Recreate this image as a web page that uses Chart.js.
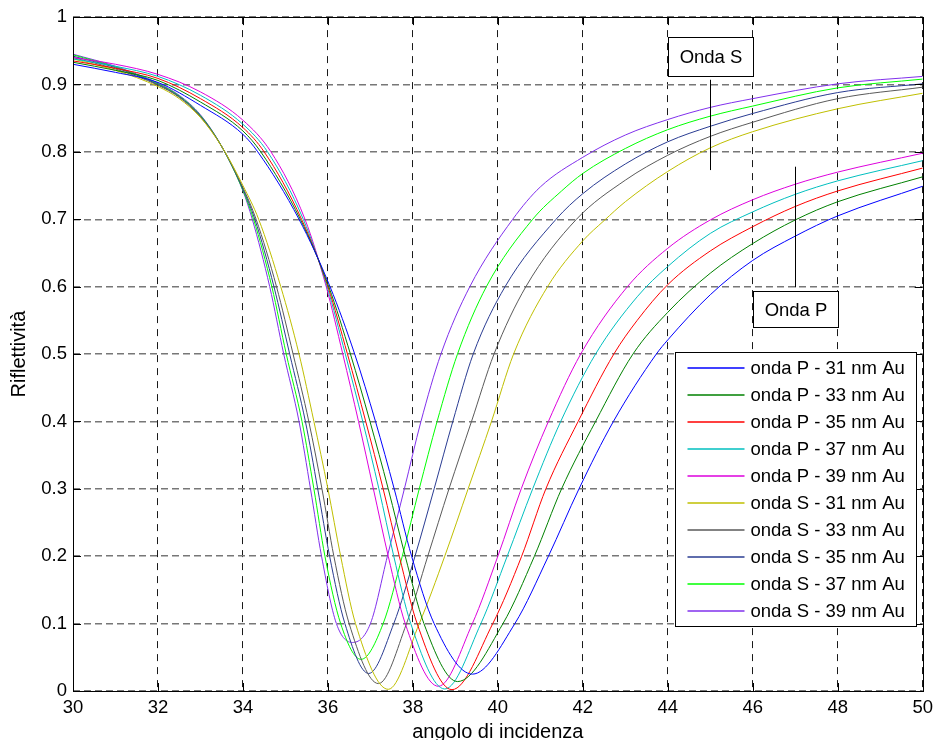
<!DOCTYPE html>
<html lang="it">
<head>
    <meta charset="UTF-8">
    <title>Riflettività</title>
    <script src="https://cdn.jsdelivr.net/npm/chart.js"></script>
    <style>
        html, body { margin: 0; padding: 0; background: #ffffff; }
        #grafico { display: block; }
    </style>
</head>
<body>
    <canvas id="grafico" width="939" height="740"></canvas>

    <script>
        // curve: [angolo, riflettività]
        const pOnda31 = [[30,0.930],[31,0.918],[32,0.903],[33,0.869],[34,0.826],[34.35,0.8],[35.32,0.7],[36.05,0.6],[36.63,0.5],[37.12,0.4],[37.56,0.3],[37.97,0.2],[38.5,0.1],[39.4,0.025],[40.4,0.1],[41.19,0.2],[41.91,0.3],[42.72,0.4],[43.73,0.5],[44,0.521],[45,0.588],[46,0.639],[47,0.675],[48,0.705],[50,0.749]];
        const pOnda33 = [[30,0.933],[31,0.921],[32,0.906],[33,0.874],[34,0.831],[34.42,0.8],[35.35,0.7],[36.02,0.6],[36.53,0.5],[36.99,0.4],[37.42,0.3],[37.82,0.2],[38.26,0.1],[39.05,0.014],[40.12,0.1],[40.86,0.2],[41.5,0.3],[42.3,0.4],[43.18,0.5],[44,0.562],[45,0.620],[46,0.664],[47,0.699],[48,0.726],[50,0.763]];
        const pOnda35 = [[30,0.935],[31,0.924],[32,0.909],[33,0.879],[34,0.836],[34.5,0.8],[35.38,0.7],[36.0,0.6],[36.46,0.5],[36.89,0.4],[37.3,0.3],[37.68,0.2],[38.1,0.1],[38.92,0.002],[39.88,0.1],[40.56,0.2],[41.13,0.3],[41.89,0.4],[42.73,0.5],[43.28,0.55],[44,0.603],[45,0.653],[46,0.689],[47,0.719],[48,0.742],[50,0.776]];
        const pOnda37 = [[30,0.938],[31,0.927],[32,0.912],[33,0.884],[34,0.841],[34.58,0.8],[35.42,0.7],[35.98,0.6],[36.41,0.5],[36.82,0.4],[37.2,0.3],[37.55,0.2],[37.95,0.1],[38.75,0.003],[39.6,0.1],[40.22,0.2],[40.82,0.3],[41.48,0.4],[42.3,0.5],[43.28,0.585],[44,0.630],[45,0.679],[46,0.711],[47,0.737],[48,0.757],[50,0.787]];
        const pOnda39 = [[30,0.940],[31,0.930],[32,0.915],[33,0.889],[34,0.847],[34.66,0.8],[35.46,0.7],[35.96,0.6],[36.35,0.5],[36.72,0.4],[37.07,0.3],[37.42,0.2],[37.82,0.1],[38.6,0.007],[39.4,0.1],[40.0,0.2],[40.55,0.3],[41.19,0.4],[41.95,0.5],[43.05,0.6],[44,0.657],[45,0.699],[46,0.729],[47,0.752],[48,0.770],[50,0.798]];
        const sOnda31 = [[30,0.938],[31,0.921],[32,0.897],[32.5,0.879],[33,0.851],[33.5,0.808],[34,0.750],[34.37,0.7],[34.89,0.6],[35.32,0.5],[35.67,0.4],[36.0,0.3],[36.3,0.2],[36.65,0.1],[37.42,0.0025],[38.15,0.1],[38.75,0.2],[39.3,0.3],[39.85,0.4],[40.37,0.5],[41.17,0.6],[42,0.668],[42.5,0.698],[43,0.726],[44,0.771],[45,0.806],[46,0.830],[48,0.864],[50,0.887]];
        const sOnda33 = [[30,0.940],[31,0.923],[32,0.899],[32.5,0.881],[33,0.852],[33.5,0.808],[34,0.747],[34.31,0.7],[34.79,0.6],[35.18,0.5],[35.55,0.4],[35.86,0.3],[36.14,0.2],[36.5,0.1],[37.19,0.011],[37.85,0.1],[38.35,0.2],[38.85,0.3],[39.38,0.4],[39.91,0.5],[40.66,0.6],[41.85,0.7],[43,0.758],[44,0.795],[45,0.823],[46,0.844],[48,0.879],[50,0.896]];
        const sOnda35 = [[30,0.942],[31,0.925],[32,0.900],[32.5,0.882],[33,0.853],[33.5,0.808],[34,0.745],[34.28,0.7],[34.73,0.6],[35.10,0.5],[35.47,0.4],[35.76,0.3],[36.04,0.2],[36.4,0.1],[36.96,0.026],[37.55,0.1],[38.05,0.2],[38.5,0.3],[38.94,0.4],[39.42,0.5],[40.17,0.6],[41.37,0.7],[42,0.738],[43,0.782],[44,0.815],[45,0.838],[46,0.857],[48,0.888],[50,0.901]];
        const sOnda37 = [[30,0.944],[31,0.926],[32,0.901],[32.5,0.883],[33,0.854],[33.5,0.808],[34,0.743],[34.25,0.7],[34.68,0.6],[35.02,0.5],[35.39,0.4],[35.67,0.3],[35.93,0.2],[36.3,0.1],[36.78,0.047],[37.3,0.1],[37.75,0.2],[38.15,0.3],[38.57,0.4],[39.05,0.5],[39.73,0.6],[40.82,0.7],[41.5,0.742],[42,0.768],[43,0.805],[44,0.833],[45,0.853],[46,0.868],[48,0.895],[50,0.908]];
        const sOnda39 = [[30,0.945],[31,0.927],[32,0.902],[32.5,0.884],[33,0.855],[33.5,0.808],[34,0.742],[34.22,0.7],[34.63,0.6],[34.96,0.5],[35.32,0.4],[35.59,0.3],[35.85,0.2],[36.2,0.1],[36.58,0.072],[37.0,0.1],[37.4,0.2],[37.8,0.3],[38.19,0.4],[38.66,0.5],[39.34,0.6],[40.35,0.7],[41,0.748],[42,0.792],[43,0.825],[44,0.848],[45,0.866],[46,0.879],[48,0.901],[50,0.912]];

        const serie = [pOnda31, pOnda33, pOnda35, pOnda37, pOnda39, sOnda31, sOnda33, sOnda35, sOnda37, sOnda39];
        const etichette = ['onda P - 31 nm Au', 'onda P - 33 nm Au', 'onda P - 35 nm Au', 'onda P - 37 nm Au', 'onda P - 39 nm Au',
                           'onda S - 31 nm Au', 'onda S - 33 nm Au', 'onda S - 35 nm Au', 'onda S - 37 nm Au', 'onda S - 39 nm Au'];
        const colori = ['#0000ff', '#008000', '#ff0000', '#00bfbf', '#dd00dd',
                        '#bfbf00', '#5a5a5a', '#2a3c92', '#00ff00', '#8030ec'];

        const tickX = [30, 32, 34, 36, 38, 40, 42, 44, 46, 48, 50];
        const tickY = [0, 0.1, 0.2, 0.3, 0.4, 0.5, 0.6, 0.7, 0.8, 0.9, 1];

        // riquadri di testo con la loro freccia (coordinate dei dati)
        const note = [
            { testo: 'Onda S', box: [44, 46, 0.913, 0.970], linea: [45, 0.773, 0.907] },
            { testo: 'Onda P', box: [46, 48, 0.540, 0.594], linea: [47, 0.599, 0.778] }
        ];

        const FONT = '"Liberation Sans", Arial, sans-serif';
        const CORPO = 18.5;
        const CORPO_TITOLI = 20;

        // cornice, tacche interne, note, legenda e titoli degli assi
        const decorazioni = {
            id: 'decorazioni',
            afterDraw(chart) {
                const { ctx, chartArea: a, scales: { x, y } } = chart;
                ctx.save();

                // tacche verso l'interno
                ctx.strokeStyle = '#000';
                ctx.lineWidth = 1;
                ctx.beginPath();
                tickX.forEach(v => {
                    const px = Math.round(x.getPixelForValue(v)) + 0.5;
                    ctx.moveTo(px, a.bottom); ctx.lineTo(px, a.bottom - 8);
                    ctx.moveTo(px, a.top); ctx.lineTo(px, a.top + 8);
                });
                tickY.forEach(v => {
                    const py = Math.round(y.getPixelForValue(v)) + 0.5;
                    ctx.moveTo(a.left, py); ctx.lineTo(a.left + 8, py);
                    ctx.moveTo(a.right, py); ctx.lineTo(a.right - 8, py);
                });
                ctx.stroke();

                // cornice
                ctx.strokeRect(Math.round(a.left) + 0.5, Math.round(a.top) + 0.5,
                               Math.round(a.width), Math.round(a.height));

                // note
                ctx.font = CORPO + 'px ' + FONT;
                ctx.textAlign = 'center';
                ctx.textBaseline = 'middle';
                note.forEach(n => {
                    const x0 = Math.round(x.getPixelForValue(n.box[0])) + 0.5;
                    const x1 = Math.round(x.getPixelForValue(n.box[1])) + 0.5;
                    const y0 = Math.round(y.getPixelForValue(n.box[3])) + 0.5;
                    const y1 = Math.round(y.getPixelForValue(n.box[2])) + 0.5;
                    ctx.fillStyle = '#fff';
                    ctx.fillRect(x0, y0, x1 - x0, y1 - y0);
                    ctx.strokeRect(x0, y0, x1 - x0, y1 - y0);
                    ctx.fillStyle = '#000';
                    ctx.fillText(n.testo, (x0 + x1) / 2, (y0 + y1) / 2 + 1);
                    const lx = Math.round(x.getPixelForValue(n.linea[0])) + 0.5;
                    ctx.beginPath();
                    ctx.moveTo(lx, y.getPixelForValue(n.linea[1]));
                    ctx.lineTo(lx, y.getPixelForValue(n.linea[2]));
                    ctx.stroke();
                });

                // legenda
                const lx0 = Math.round(a.right) - 248 + 0.5;
                const ly0 = Math.round(a.top) + 335 + 0.5;
                ctx.fillStyle = '#fff';
                ctx.fillRect(lx0, ly0, 241, 274);
                ctx.strokeStyle = '#000';
                ctx.strokeRect(lx0, ly0, 241, 274);
                ctx.textAlign = 'left';
                ctx.textBaseline = 'middle';
                etichette.forEach((t, i) => {
                    const ry = Math.round(ly0 + 15 + i * 27.03);
                    ctx.strokeStyle = colori[i];
                    ctx.lineWidth = 1.6;
                    ctx.beginPath();
                    ctx.moveTo(lx0 + 12, ry);
                    ctx.lineTo(lx0 + 69, ry);
                    ctx.stroke();
                    ctx.fillStyle = '#000';
                    ctx.fillText(t, lx0 + 75, ry + 1);
                });

                // titoli degli assi
                ctx.fillStyle = '#000';
                ctx.font = CORPO_TITOLI + 'px ' + FONT;
                ctx.textAlign = 'center';
                ctx.textBaseline = 'alphabetic';
                ctx.fillText('angolo di incidenza', (a.left + a.right) / 2, 738);
                ctx.translate(25, (a.top + a.bottom) / 2);
                ctx.rotate(-Math.PI / 2);
                ctx.fillText('Riflettività', 0, 0);

                ctx.restore();
            }
        };

        const ctx = document.getElementById('grafico').getContext('2d');
        const grafico = new Chart(ctx, {
            type: 'line',
            data: {
                datasets: serie.map((s, i) => ({
                    label: etichette[i],
                    data: s.map(p => ({ x: p[0], y: p[1] })),
                    borderColor: colori[i],
                    borderWidth: 1,
                    pointRadius: 0,
                    fill: false,
                    cubicInterpolationMode: 'monotone'
                }))
            },
            options: {
                responsive: false,
                animation: false,
                devicePixelRatio: 1,
                layout: { padding: { top: 17, right: 12, left: 0, bottom: 0 } },
                scales: {
                    x: {
                        type: 'linear',
                        min: 30,
                        max: 50,
                        afterFit: s => { s.height = 49; },
                        afterBuildTicks: s => { s.ticks = tickX.map(v => ({ value: v })); },
                        grid: { color: '#1a1a1a', lineWidth: 1, drawTicks: false },
                        border: { display: false, dash: [7, 6] },
                        ticks: {
                            color: '#000',
                            padding: 6,
                            maxRotation: 0,
                            font: { family: FONT, size: CORPO }
                        }
                    },
                    y: {
                        min: 0,
                        max: 1,
                        afterFit: s => { s.width = 73; },
                        afterBuildTicks: s => { s.ticks = tickY.map(v => ({ value: v })); },
                        grid: { color: '#777', lineWidth: 1.5, drawTicks: false },
                        border: { display: false, dash: [7, 4] },
                        ticks: {
                            color: '#000',
                            padding: 6,
                            font: { family: FONT, size: CORPO },
                            callback: v => String(+v.toFixed(1))
                        }
                    }
                },
                plugins: {
                    legend: { display: false },
                    tooltip: { enabled: false }
                }
            },
            plugins: [decorazioni]
        });
    </script>
</body>
</html>
